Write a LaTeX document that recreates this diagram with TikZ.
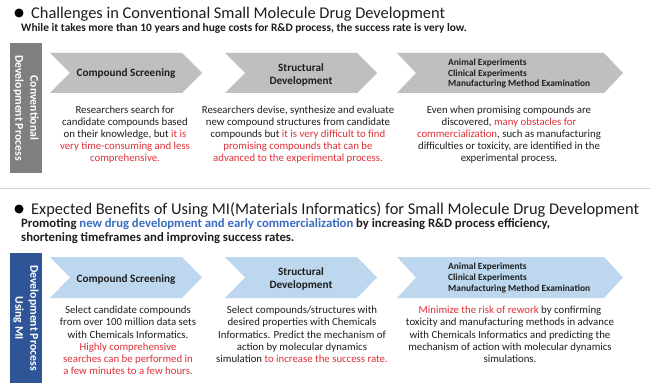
\documentclass[tikz,border=0pt]{standalone}
\usepackage{fontspec}
\setmainfont{Carlito}
\definecolor{txt}{HTML}{1E1E1E}
\definecolor{redtxt}{HTML}{E0303A}
\definecolor{bluetxt}{HTML}{3A6CC0}
\definecolor{greybar}{HTML}{7F7F7F}
\definecolor{greychev}{HTML}{BFBFBF}
\definecolor{bluebar}{HTML}{2F5597}
\definecolor{bluechev}{HTML}{BDD7EE}
\definecolor{divline}{HTML}{D0D0D0}
\newcommand{\redtx}[1]{\textcolor{redtxt}{#1}}
\newcommand{\bluetx}[1]{\textcolor{bluetxt}{#1}}
\newcommand{\chevron}[6]{% x1 x2 ytop ybot depth colour
  \fill[#6] (#1,#3) -- ({#2-#5},#3) -- (#2,{(#3+#4)/2}) -- ({#2-#5},#4) -- (#1,#4) -- ({#1+#5},{(#3+#4)/2}) -- cycle;}
\tikzset{
  titletext/.style={font=\fontsize{16.4}{18}\selectfont, text=txt, inner sep=0, anchor=base west},
  subtext/.style={text=txt, inner sep=0, anchor=base west},
  bulletdot/.style={circle, fill=black, inner sep=0, minimum size=9pt},
  body/.style={font=\fontsize{10.8}{12.2}\selectfont, align=center, inner sep=0, anchor=north, text=txt},
  chevlab/.style={font=\bfseries\fontsize{11.2}{12.5}\selectfont, align=center, inner sep=0, text=txt},
  chevsmall/.style={font=\bfseries\fontsize{9.4}{10.8}\selectfont, align=left, inner sep=0, text=txt, anchor=north west},
  sidelab/.style={font=\bfseries\fontsize{11.8}{15}\selectfont, align=center, text=white, rotate=-90, inner sep=0},
}
\begin{document}
\begin{tikzpicture}[x=1pt,y=-1pt]
\fill[white] (0,0) rectangle (650,390);
\useasboundingbox (0,0) rectangle (650,390);

% ---------- Section 1 ----------
\node[bulletdot] (b1) at (19,13) {};
\node[titletext] (title1) at (31,18.5) {Challenges in Conventional Small Molecule Drug Development};
\node[subtext, font=\bfseries\fontsize{11.4}{13}\selectfont] (sub1) at (21,31.5) {While it takes more than 10 years and huge costs for R\&D process, the success rate is very low.};

\fill[greybar] (10,43) rectangle (42,173);
\node[sidelab] (side1) at (26,108) {Conventional\\Development Process};

\chevron{50}{202}{53}{93}{20}{greychev}
\chevron{225}{377}{53}{93}{20}{greychev}
\chevron{397}{623}{53}{93}{19}{greychev}

\node[chevlab, anchor=base] (c11) at (126,77) {Compound Screening};
\node[chevlab, anchor=north] (c12) at (301,63.5) {Structural\\Development};
\node[chevsmall] (c13) at (448,58.5) {Animal Experiments\\Clinical Experiments\\Manufacturing Method Examination};

\node[body] (t11) at (125,105.5) {Researchers search for\\candidate compounds based\\on their knowledge, but \redtx{it is}\\\redtx{very time-consuming and less}\\\redtx{comprehensive.}};
\node[body] (t12) at (298,105.5) {Researchers devise, synthesize and evaluate\\new compound structures from candidate\\compounds but \redtx{it is very difficult to find}\\\redtx{promising compounds that can be}\\\redtx{advanced to the experimental process.}};
\node[body] (t13) at (509,105.5) {Even when promising compounds are\\discovered, \redtx{many obstacles for}\\\redtx{commercialization}, such as manufacturing\\difficulties or toxicity, are identified in the\\experimental process.};

% ---------- divider ----------
\draw[divline, line width=0.8pt] (0,188) -- (650,188);

% ---------- Section 2 ----------
\node[bulletdot] (b2) at (19,209) {};
\node[titletext] (title2) at (31,214.5) {Expected Benefits of Using MI(Materials Informatics) for Small Molecule Drug Development};
\node[subtext, font=\bfseries\fontsize{12.7}{14}\selectfont] (sub2a) at (21,227.5) {Promoting \bluetx{new drug development and early commercialization} by increasing R\&D process efficiency,};
\node[subtext, font=\bfseries\fontsize{12.7}{14}\selectfont] (sub2b) at (21,241) {shortening timeframes and improving success rates.};

\fill[bluebar] (10,253) rectangle (42,383);
\node[sidelab] (side2) at (26,318) {Development Process\\Using MI};

\chevron{50}{202}{257}{298}{20}{bluechev}
\chevron{225}{377}{257}{298}{20}{bluechev}
\chevron{397}{623}{257}{298}{19}{bluechev}

\node[chevlab, anchor=base] (c21) at (126,282) {Compound Screening};
\node[chevlab, anchor=north] (c22) at (301,267.5) {Structural\\Development};
\node[chevsmall] (c23) at (448,263) {Animal Experiments\\Clinical Experiments\\Manufacturing Method Examination};

\node[body] (t21) at (128,306) {Select candidate compounds\\from over 100 million data sets\\with Chemicals Informatics.\\\redtx{Highly comprehensive}\\\redtx{searches can be performed in}\\\redtx{a few minutes to a few hours.}};
\node[body] (t22) at (302,306) {Select compounds/structures with\\desired properties with Chemicals\\Informatics. Predict the mechanism of\\action by molecular dynamics\\simulation \redtx{to increase the success rate.}};
\node[body] (t23) at (510,306) {\redtx{Minimize the risk of rework} by confirming\\toxicity and manufacturing methods in advance\\with Chemicals Informatics and predicting the\\mechanism of action with molecular dynamics\\simulations.};
\end{tikzpicture}
\end{document}
